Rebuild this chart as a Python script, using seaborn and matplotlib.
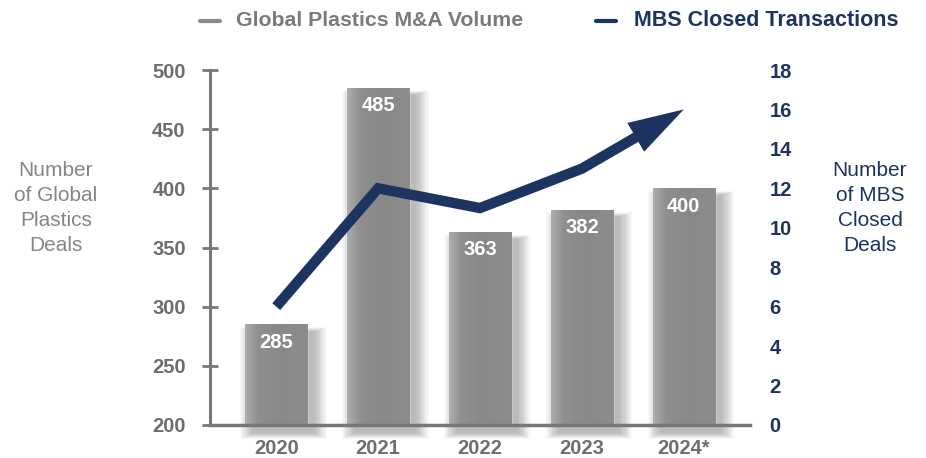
import matplotlib
matplotlib.use("Agg")
import matplotlib.pyplot as plt
import numpy as np
import pandas as pd
import seaborn as sns
from matplotlib.patches import Rectangle
from matplotlib.lines import Line2D

years = ["2020", "2021", "2022", "2023", "2024*"]
plastics_deals = [285, 485, 363, 382, 400]
mbs_deals = [6, 12, 11, 13, 16]
left_ticks = [200, 250, 300, 350, 400, 450, 500]
right_ticks = [0, 2, 4, 6, 8, 10, 12, 14, 16, 18]

GREY = "#8a8a8a"
TXT_GREY = "#6e6e6e"
NAVY = "#1d3461"

sns.set_theme(style="white")
plt.rcParams["font.family"] = ["Liberation Sans", "DejaVu Sans"]

df = pd.DataFrame({"year": years, "deals": plastics_deals, "mbs": mbs_deals})

fig = plt.figure(figsize=(9.26, 4.58), dpi=100)
ax = fig.add_axes([210 / 926, 33 / 458, 540 / 926, 355 / 458])

sns.barplot(data=df, x="year", y="deals", color=GREY, width=0.61, ax=ax,
            saturation=1, zorder=3)
ax.set_xlim(-0.65, 4.65)
ax.set_ylim(200, 500)

# soft shadows + gradient fill
grad = np.linspace(0, 1, 64)
vals = np.interp(grad, [0, 0.2, 0.55, 1], [0.68, 0.56, 0.535, 0.55])
img = np.dstack([vals, vals, vals]).reshape(1, -1, 3)
for p in list(ax.patches):
    x0, w, h = p.get_x(), p.get_width(), p.get_height()
    for k in range(12):
        grow = 0.011 * k
        ax.add_patch(Rectangle((x0 + 0.07 - grow, 193 - grow * 40), w + 2 * grow,
                               h - 193 - 6 + grow * 40 + grow * 30,
                               facecolor="black", alpha=0.022, lw=0, zorder=2,
                               clip_on=False))
    im = ax.imshow(img, extent=[x0, x0 + w, 200, h], aspect="auto", zorder=3.5,
                   interpolation="bicubic")
    im.set_clip_path(p)
ax.set_xlim(-0.65, 4.65)
ax.set_ylim(200, 500)

for i, v in enumerate(plastics_deals):
    ax.text(i, v - 15, str(v), ha="center", va="center", color="white",
            fontsize=14.5, fontweight="bold", zorder=5)

ax.set_yticks(left_ticks)
ax.set_yticklabels([str(t) for t in left_ticks])
ax.tick_params(axis="y", direction="inout", length=11, width=2, color="#777777",
               pad=12, labelsize=14.5, labelcolor=TXT_GREY, left=True)
ax.tick_params(axis="x", length=0, pad=10, labelsize=14.5, labelcolor=TXT_GREY)
for lab in ax.get_yticklabels() + ax.get_xticklabels():
    lab.set_fontweight("bold")
ax.set_xlabel("")
ax.set_ylabel("")
for s in ["top", "right"]:
    ax.spines[s].set_visible(False)
ax.spines["left"].set_color("#777777")
ax.spines["left"].set_linewidth(2.2)
ax.spines["bottom"].set_color("#777777")
ax.spines["bottom"].set_linewidth(2.5)
ax.spines["left"].set_zorder(6)
ax.spines["bottom"].set_zorder(6)

ax2 = ax.twinx()
ax2.set_ylim(0, 18)
ax2.set_yticks(right_ticks)
ax2.set_yticklabels([str(t) for t in right_ticks])
ax2.tick_params(axis="y", length=0, pad=14, labelsize=14.5, labelcolor=NAVY)
for lab in ax2.get_yticklabels():
    lab.set_fontweight("bold")
for s in ax2.spines.values():
    s.set_visible(False)

xs = np.arange(len(years), dtype=float)
ys = np.array(mbs_deals, dtype=float)
frac = 0.6
xe = xs[-2] + frac * (xs[-1] - xs[-2])
ye = ys[-2] + frac * (ys[-1] - ys[-2])
line_df = pd.DataFrame({"x": list(xs[:-1]) + [xe], "y": list(ys[:-1]) + [ye]})
sns.lineplot(data=line_df, x="x", y="y", ax=ax2, color=NAVY, lw=7.5,
             solid_joinstyle="miter", solid_capstyle="butt", zorder=4)
ax2.annotate("", xy=(xs[-1], ys[-1]),
             xytext=(xs[-2] + 0.4 * (xs[-1] - xs[-2]), ys[-2] + 0.4 * (ys[-1] - ys[-2])),
             arrowprops=dict(arrowstyle="-|>,head_length=1.0,head_width=0.3",
                             mutation_scale=40, color=NAVY, lw=0,
                             shrinkA=0, shrinkB=0), zorder=4)
ax2.set_xlabel("")
ax2.set_ylabel("")
ax2.set_xlim(-0.65, 4.65)

# axis titles
fig.text(56 / 926, 1 - 208 / 458, "Number\nof Global\nPlastics\nDeals", ha="center",
         va="center", fontsize=15, color="#858585", linespacing=1.38,
         family=["Liberation Sans", "DejaVu Sans"])
fig.text(870 / 926, 1 - 208 / 458, "Number\nof MBS\nClosed\nDeals", ha="center",
         va="center", fontsize=15, color=NAVY, linespacing=1.38,
         family=["Liberation Sans", "DejaVu Sans"])

# legend
fig.add_artist(Line2D([200 / 926, 220 / 926], [1 - 21 / 458] * 2, color=GREY, lw=3))
fig.text(236 / 926, 1 - 21 / 458, "Global Plastics M&A Volume", ha="left", va="center",
         fontsize=15.3, fontweight="bold", color="#7a7a7a")
fig.add_artist(Line2D([596 / 926, 616 / 926], [1 - 21 / 458] * 2, color=NAVY, lw=3))
fig.text(634 / 926, 1 - 21 / 458, "MBS Closed Transactions", ha="left", va="center",
         fontsize=15.5, fontweight="bold", color=NAVY)

fig.savefig("out.png", dpi=100)
